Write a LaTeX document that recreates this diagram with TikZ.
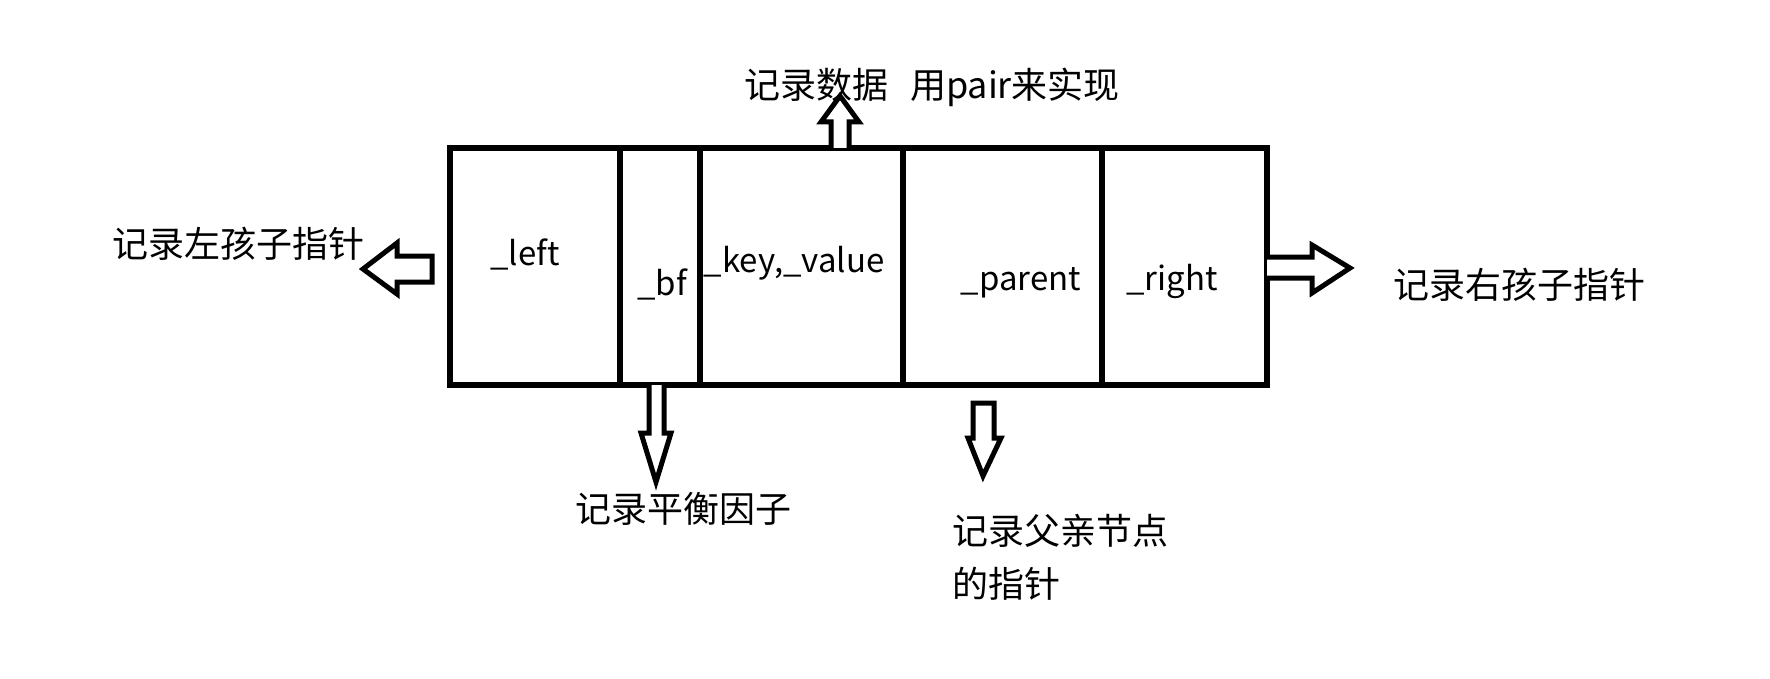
\documentclass[tikz,border=0pt]{standalone}
\usepackage{fontspec}
\setmainfont{Noto Sans CJK SC}
\begin{document}
\begin{tikzpicture}[x=0.5pt,y=-0.5pt,
  cell/.style={draw=black,line width=3pt,minimum height=118.5pt,inner sep=0pt,outer sep=0pt},
  lbl/.style={inner sep=0pt,font=\fontsize{18}{26.5}\selectfont},
  celltext/.style={inner sep=0pt,anchor=base,font=\fontsize{16.5}{20}\selectfont},
  blockarrow/.style={draw=black,fill=white,line width=2.5pt,line join=miter}]
\fill[white] (0,0) rectangle (1770,679);
\useasboundingbox (0,0) rectangle (1770,679);
% cells
\node[cell,minimum width=85pt]   (cleft)   at (535,266.5) {};
\node[cell,minimum width=40pt]   (cbf)     at (660,266.5) {};
\node[cell,minimum width=101.5pt](ckv)     at (801.5,266.5) {};
\node[cell,minimum width=99.5pt] (cparent) at (1002.5,266.5) {};
\node[cell,minimum width=82.5pt] (cright)  at (1184.5,266.5) {};
% cell texts
\node[celltext] (tleft)   at (525,265)  {\_left};
\node[celltext] (tbf)     at (662,295)  {\_bf};
\node[celltext] (tkv)     at (794,272)  {\_key,\_value};
\node[celltext] (tparent) at (1021,290) {\_parent};
\node[celltext] (tright)  at (1172,290) {\_right};
% block arrows
\draw[blockarrow] (831,148) -- (831,122) -- (821,122) -- (840,96) -- (859,122) -- (849,122) -- (849,148);
\draw[blockarrow] (432,256) -- (397,256) -- (397,243) -- (363,269) -- (397,294) -- (397,282) -- (432,282) -- cycle;
\draw[blockarrow] (1267,257) -- (1312,257) -- (1312,245) -- (1350,268) -- (1312,293) -- (1312,278) -- (1267,278);
\draw[blockarrow] (649,385) -- (649,433) -- (641,433) -- (656,482) -- (671,433) -- (664,433) -- (664,385);
\draw[blockarrow] (973,403) -- (973,438) -- (968,438) -- (983,476) -- (1001,438) -- (994,438) -- (994,403) -- cycle;
% outer labels
\node[lbl,anchor=base west] (ltop)    at (744,99)  {记录数据\hspace{0.6em}用pair来实现};
\node[lbl,anchor=base west] (lleft)   at (112,257) {记录左孩子指针};
\node[lbl,anchor=base west] (lright)  at (1393,298) {记录右孩子指针};
\node[lbl,anchor=base west] (lbf)     at (575,522) {记录平衡因子};
\node[lbl,anchor=west,align=left] (lparent) at (952,557.5) {记录父亲节点\\的指针};
\end{tikzpicture}
\end{document}
